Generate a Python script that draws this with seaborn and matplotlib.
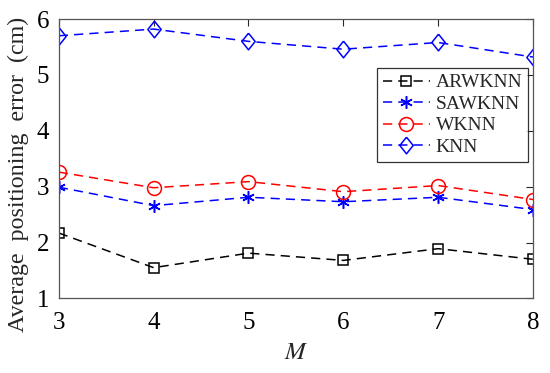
import numpy as np
import pandas as pd
import seaborn as sns
import matplotlib.pyplot as plt

# 数据
m_values = [3, 4, 5, 6, 7, 8]
arwknn = [2.17, 1.55, 1.81, 1.68, 1.89, 1.70]
sawknn = [2.99, 2.66, 2.81, 2.73, 2.81, 2.59]
wknn = [3.26, 2.98, 3.09, 2.91, 3.02, 2.77]
knn = [5.70, 5.82, 5.60, 5.46, 5.58, 5.32]

series_names = ['ARWKNN', 'SAWKNN', 'WKNN', 'KNN']
series_values = [arwknn, sawknn, wknn, knn]
colors = ['black', 'blue', 'red', 'blue']
# 菱形稍高一点，类似 MATLAB 的 'd'
diamond = [(0, 1), (0.8, 0), (0, -1), (-0.8, 0), (0, 1)]
markers = ['s', (6, 2, 0), 'o', diamond]
marker_sizes = [7, 9, 10, 12]

df = pd.DataFrame({
    'M': np.tile(m_values, len(series_names)),
    'err': np.concatenate(series_values),
    'method': np.repeat(series_names, len(m_values)),
})

sns.set_style('white')
plt.rcParams['font.family'] = ['Liberation Serif', 'DejaVu Serif']
plt.rcParams['mathtext.fontset'] = 'stix'

fig, ax = plt.subplots(figsize=(5.5, 3.73), dpi=100)

for name, c, mk, ms in zip(series_names, colors, markers, marker_sizes):
    sub = df[df['method'] == name]
    sns.lineplot(data=sub, x='M', y='err', ax=ax, color=c, marker=mk,
                 markersize=ms, markerfacecolor='none', markeredgecolor=c,
                 markeredgewidth=1.1, linewidth=1.1, linestyle=(0, (6, 4)),
                 label=name)

ax.set_xlim(3, 8)
ax.set_ylim(1, 6)
ax.set_xticks(m_values)
ax.set_yticks([1, 2, 3, 4, 5, 6])
ax.tick_params(direction='in', length=5, width=0.8, labelsize=18,
               top=True, right=True, colors='#262626', labelcolor='black')
ax.tick_params(axis='x', pad=10)
ax.tick_params(axis='y', pad=7)
for sp in ax.spines.values():
    sp.set_color('#555555')
    sp.set_linewidth(0.9)

ax.set_xlabel('$M$', fontsize=18, va='center')
ax.xaxis.set_label_coords(0.5, -0.195)
ax.set_ylabel('Average  positioning  error  (cm)', fontsize=17.3, va='center')
ax.yaxis.set_label_coords(-0.085, 0.445)

leg = ax.legend(loc='upper right', bbox_to_anchor=(0.99, 0.825), fontsize=14,
                frameon=True, fancybox=False, edgecolor='black',
                borderpad=0.3, labelspacing=0.2, handlelength=2.4,
                handletextpad=0.3, borderaxespad=0)
leg.get_frame().set_linewidth(0.9)

plt.subplots_adjust(left=0.107, right=0.969, top=0.949, bottom=0.2)
plt.savefig('out.png', dpi=100)
